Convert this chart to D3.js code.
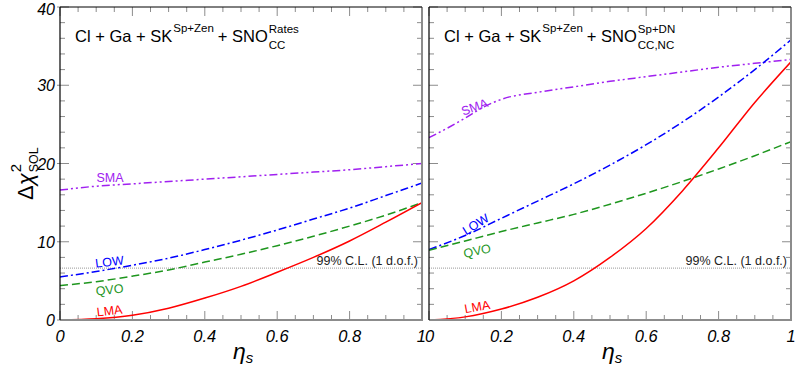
<!DOCTYPE html>
<html>
<head>
<meta charset="utf-8">
<script src="https://cdn.jsdelivr.net/npm/d3@7"></script>
<style>
  body { margin: 0; background: #fff; }
  svg { display: block; font-family: "Liberation Sans", Arial, sans-serif; }
</style>
</head>
<body>
<div id="chart"></div>
<script>
// eta_s grid used for the curves
const etaGrid = [0, 0.1, 0.2, 0.3, 0.4, 0.5, 0.6, 0.7, 0.8, 0.9, 1.0];
const etaFine = [0, 0.05, 0.1, 0.15, 0.2, 0.3, 0.4, 0.5, 0.6, 0.7, 0.8, 0.9, 1.0];

// left panel: Cl + Ga + SK + SNO rates
const leftLMA = [0, 0.15, 0.6, 1.5, 2.8, 4.3, 6.1, 8.0, 10.1, 12.5, 15.0];
const leftLOW = [5.5, 6.2, 7.0, 7.9, 9.0, 10.2, 11.5, 12.9, 14.3, 15.9, 17.5];
const leftQVO = [4.4, 4.9, 5.6, 6.4, 7.4, 8.4, 9.5, 10.7, 12.0, 13.4, 15.0];
const leftSMA = [16.6, 17.1, 17.4, 17.7, 18.0, 18.3, 18.6, 18.9, 19.2, 19.6, 20.0];

// right panel: Cl + Ga + SK + SNO spectrum + day/night
const rightLMA = [0, 0.4, 1.4, 2.9, 5.0, 8.0, 11.7, 16.5, 22.0, 27.8, 33.0];
const rightLOW = [9.0, 10.8, 13.0, 15.2, 17.4, 19.8, 22.4, 25.3, 28.5, 32.0, 35.8];
const rightQVO = [8.9, 10.1, 11.3, 12.4, 13.5, 14.8, 16.2, 17.7, 19.3, 21.0, 22.8];
const rightSMA = [23.3, 24.5, 25.8, 27.2, 28.2, 29.1, 29.8, 30.5, 31.1, 31.7, 32.3, 32.8, 33.3];

const CL99 = 6.63;
const yTicks = [0, 10, 20, 30, 40];
const xTicks = [0, 0.2, 0.4, 0.6, 0.8, 1];

const COLORS = { LMA: "#ff0000", LOW: "#0000ff", QVO: "#1e961e", SMA: "#a020f0" };
const DASHES = { LMA: null, LOW: "8,3,2,3", QVO: "8,4", SMA: "8,3,2,3,2,3" };

const width = 797, height = 370;
const plotTop = 7, plotBottom = 320;

const svg = d3.select("#chart").append("svg")
    .attr("width", width)
    .attr("height", height);

const y = d3.scaleLinear().domain([0, 40]).range([plotBottom, plotTop]);

const panels = [
    {
        x0: 60, x1: 422,
        series: [
            { name: "SMA", eta: etaGrid, vals: leftSMA },
            { name: "LOW", eta: etaGrid, vals: leftLOW },
            { name: "QVO", eta: etaGrid, vals: leftQVO },
            { name: "LMA", eta: etaGrid, vals: leftLMA }
        ],
        labels: [
            { name: "SMA", x: 110, y: 182, rot: 0 },
            { name: "LOW", x: 110, y: 266, rot: -7 },
            { name: "QVO", x: 110, y: 294, rot: -6 },
            { name: "LMA", x: 110, y: 315, rot: -7 }
        ],
        sup: "Rates", sub: "CC"
    },
    {
        x0: 429, x1: 791,
        series: [
            { name: "SMA", eta: etaFine, vals: rightSMA },
            { name: "LOW", eta: etaGrid, vals: rightLOW },
            { name: "QVO", eta: etaGrid, vals: rightQVO },
            { name: "LMA", eta: etaGrid, vals: rightLMA }
        ],
        labels: [
            { name: "SMA", x: 476, y: 111, rot: -20 },
            { name: "LOW", x: 478, y: 228, rot: -32 },
            { name: "QVO", x: 478, y: 255, rot: -12 },
            { name: "LMA", x: 478, y: 311, rot: -10 }
        ],
        sup: "Sp+DN", sub: "CC,NC"
    }
];

panels.forEach((p, pi) => {
    const x = d3.scaleLinear().domain([0, 1]).range([p.x0, p.x1]);
    const g = svg.append("g");

    // clip for curves
    const clipId = "clip" + pi;
    svg.append("clipPath").attr("id", clipId)
        .append("rect")
        .attr("x", p.x0).attr("y", plotTop)
        .attr("width", p.x1 - p.x0).attr("height", plotBottom - plotTop);

    // ticks (inside, all four sides)
    const minorX = d3.range(0, 1.0001, 0.05);
    const minorY = d3.range(0, 40.001, 2);
    minorX.forEach(v => {
        const major = xTicks.some(t => Math.abs(t - v) < 1e-6);
        const len = major ? 9 : 5;
        g.append("line").attr("x1", x(v)).attr("x2", x(v))
            .attr("y1", plotBottom).attr("y2", plotBottom - len)
            .attr("stroke", "#8c8c8c").attr("stroke-width", 1);
        g.append("line").attr("x1", x(v)).attr("x2", x(v))
            .attr("y1", plotTop).attr("y2", plotTop + len)
            .attr("stroke", "#8c8c8c").attr("stroke-width", 1);
    });
    minorY.forEach(v => {
        const major = yTicks.includes(v);
        const len = major ? 9 : 5;
        g.append("line").attr("x1", p.x0 - (major && pi == 0 ? 3 : 0)).attr("x2", p.x0 + len)
            .attr("y1", y(v)).attr("y2", y(v))
            .attr("stroke", "#8c8c8c").attr("stroke-width", 1);
        g.append("line").attr("x1", p.x1).attr("x2", p.x1 - len)
            .attr("y1", y(v)).attr("y2", y(v))
            .attr("stroke", "#8c8c8c").attr("stroke-width", 1);
    });

    // 99% C.L. line
    g.append("line")
        .attr("x1", p.x0).attr("x2", p.x1)
        .attr("y1", y(CL99)).attr("y2", y(CL99))
        .attr("stroke", "#999").attr("stroke-width", 1)
        .attr("stroke-dasharray", "1,1");
    g.append("text")
        .attr("x", p.x1 - 4).attr("y", y(CL99) - 3)
        .attr("text-anchor", "end")
        .attr("font-size", 12.5)
        .attr("fill", "#222")
        .text("99% C.L. (1 d.o.f.)");

    // curves
    const line = d3.line()
        .x(d => x(d[0]))
        .y(d => y(d[1]))
        .curve(d3.curveMonotoneX);

    p.series.forEach(s => {
        const pts = s.eta.map((e, i) => [e, s.vals[i]]);
        g.append("path")
            .attr("clip-path", "url(#" + clipId + ")")
            .attr("d", line(pts))
            .attr("fill", "none")
            .attr("stroke", COLORS[s.name])
            .attr("stroke-width", 1.5)
            .attr("stroke-dasharray", DASHES[s.name]);
    });

    p.labels.forEach(l => {
        g.append("text")
            .attr("transform", "translate(" + l.x + "," + l.y + ") rotate(" + l.rot + ")")
            .attr("text-anchor", "middle")
            .attr("font-size", 12.5)
            .attr("fill", COLORS[l.name])
            .text(l.name);
    });

    // frame: left/top black, bottom/right gray
    g.append("line").attr("x1", p.x0).attr("x2", p.x1).attr("y1", plotBottom).attr("y2", plotBottom)
        .attr("stroke", "#8c8c8c").attr("stroke-width", 2);
    g.append("line").attr("x1", p.x1).attr("x2", p.x1).attr("y1", plotTop).attr("y2", plotBottom + 1)
        .attr("stroke", "#8c8c8c").attr("stroke-width", 2);
    g.append("line").attr("x1", p.x0).attr("x2", p.x1).attr("y1", plotTop).attr("y2", plotTop)
        .attr("stroke", "#000").attr("stroke-width", 1);
    g.append("line").attr("x1", p.x0).attr("x2", p.x0).attr("y1", plotTop).attr("y2", plotBottom)
        .attr("stroke", "#000").attr("stroke-width", 1.2);

    // x tick labels
    xTicks.forEach(t => {
        g.append("text")
            .attr("x", x(t)).attr("y", plotBottom + 22)
            .attr("text-anchor", t == 1 && pi == 0 ? "end" : (t == 0 && pi == 1 ? "start" : "middle"))
            .attr("dx", t == 1 && pi == 0 ? 4 : (t == 0 && pi == 1 ? -4 : 0))
            .attr("font-size", 16.5)
            .attr("font-style", "italic")
            .text(t == 0 || t == 1 ? String(t) : t.toFixed(1));
    });

    // x axis title
    const xt = g.append("text")
        .attr("x", (p.x0 + p.x1) / 2 - 8).attr("y", 359)
        .attr("font-size", 23)
        .attr("font-style", "italic");
    xt.append("tspan").text("η");
    xt.append("tspan").attr("font-size", 15).attr("dy", 4).text("s");

    // title
    const tx = p.x0 + 15, ty = 42;
    const t1 = g.append("text").attr("x", tx).attr("y", ty).attr("font-size", 16.5)
        .text("Cl + Ga + SK");
    let cx = tx + t1.node().getComputedTextLength();
    const t2 = g.append("text").attr("x", cx + 1).attr("y", ty - 10).attr("font-size", 11.5)
        .text("Sp+Zen");
    cx += 1 + t2.node().getComputedTextLength();
    const t3 = g.append("text").attr("x", cx + 4).attr("y", ty).attr("font-size", 16.5)
        .text("+ SNO");
    cx += 4 + t3.node().getComputedTextLength();
    g.append("text").attr("x", cx + 1).attr("y", ty - 9).attr("font-size", 11.5).text(p.sup);
    g.append("text").attr("x", cx + 1).attr("y", ty + 7).attr("font-size", 11.5).text(p.sub);
});

// y tick labels (left panel only)
yTicks.forEach(t => {
    svg.append("text")
        .attr("x", 55).attr("y", t == 40 ? y(t) + 7.5 : y(t) + 6)
        .attr("text-anchor", "end")
        .attr("font-size", 16)
        .attr("font-style", "italic")
        .text(t);
});

// y axis title: Δχ²_SOL
const yg = svg.append("g").attr("transform", "translate(33,200) rotate(-90)");
const ya = yg.append("text").attr("x", 0).attr("y", 0).attr("font-size", 22);
ya.append("tspan").text("Δ");
ya.append("tspan").attr("font-style", "italic").text("χ");
const yw = ya.node().getComputedTextLength();
yg.append("text").attr("x", yw + 1).attr("y", -12).attr("font-size", 15).text("2");
yg.append("text").attr("x", yw + 1).attr("y", 5).attr("font-size", 12.5).text("SOL");
</script>
</body>
</html>
